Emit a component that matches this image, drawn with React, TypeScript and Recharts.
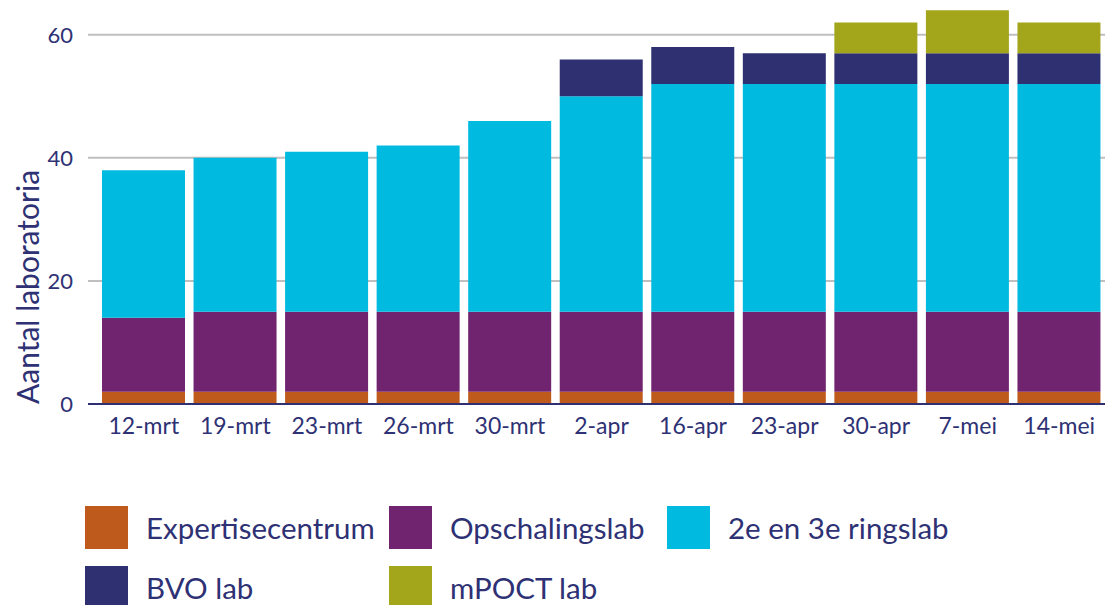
import { BarChart, Bar, XAxis, YAxis, CartesianGrid } from 'recharts';

const weeks = ['12-mrt', '19-mrt', '23-mrt', '26-mrt', '30-mrt', '2-apr', '16-apr', '23-apr', '30-apr', '7-mei', '14-mei'];
const expertise = [2, 2, 2, 2, 2, 2, 2, 2, 2, 2, 2];
const opschaling = [12, 13, 13, 13, 13, 13, 13, 13, 13, 13, 13];
const ringslab = [24, 25, 26, 27, 31, 35, 37, 37, 37, 37, 37];
const bvo = [0, 0, 0, 0, 0, 6, 6, 5, 5, 5, 5];
const mpoct = [0, 0, 0, 0, 0, 0, 0, 0, 5, 7, 5];
const yTicks = [0, 20, 40, 60];

const NAVY_TEXT = '#2e3174';
const FONT = 'Lato, Carlito, Calibri, sans-serif';

const series = [
  { key: 'expertise', name: 'Expertisecentrum', color: '#be5a1b', values: expertise },
  { key: 'opschaling', name: 'Opschalingslab', color: '#70236f', values: opschaling },
  { key: 'ringslab', name: '2e en 3e ringslab', color: '#00bbdf', values: ringslab },
  { key: 'bvo', name: 'BVO lab', color: '#2e3072', values: bvo },
  { key: 'mpoct', name: 'mPOCT lab', color: '#a3a51b', values: mpoct },
];

const data = weeks.map((week, i) => {
  const row: Record<string, string | number> = { week };
  series.forEach((s) => {
    row[s.key] = s.values[i];
  });
  return row;
});

// legend grid: 3 columns, 2 rows
const legendCols = [85, 389, 667];
const legendRows = [506, 566];

export default function App() {
  return (
    <div style={{ position: 'absolute', left: 0, top: 0, width: 1105, height: 605, background: '#fff', fontFamily: FONT }}>
      <BarChart
        width={1105}
        height={460}
        data={data}
        margin={{ top: 4, right: 0, bottom: 0, left: 0 }}
      >
        <CartesianGrid vertical={false} horizontalValues={yTicks} stroke="#bfbfbf" strokeWidth={2} />
        <XAxis
          dataKey="week"
          height={56}
          padding={{ left: 10, right: 0 }}
          tickLine={false}
          tickSize={0}
          tickMargin={14}
          axisLine={{ stroke: '#2e3072', strokeWidth: 2 }}
          tick={{ fill: NAVY_TEXT, fontSize: 23, fontFamily: FONT }}
          interval={0}
        />
        <YAxis
          width={88}
          domain={[0, 65]}
          ticks={yTicks}
          allowDataOverflow
          tickLine={false}
          tickSize={0}
          tickMargin={15}
          axisLine={false}
          tick={{ fill: NAVY_TEXT, fontSize: 22, fontFamily: FONT }}
          label={{
            content: () => (
              <text
                x={27}
                y={287}
                transform="rotate(-90, 27, 287)"
                textAnchor="middle"
                dominantBaseline="central"
                fill={NAVY_TEXT}
                fontSize={30}
                fontFamily={FONT}
              >
                Aantal laboratoria
              </text>
            ),
          }}
        />
        {series.map((s) => (
          <Bar
            key={s.key}
            dataKey={s.key}
            name={s.name}
            stackId="labs"
            fill={s.color}
            barSize={83}
            isAnimationActive={false}
          />
        ))}
      </BarChart>
      {series.map((s, i) => {
        const col = i % 3;
        const row = Math.floor(i / 3);
        return (
          <div
            key={s.key}
            style={{
              position: 'absolute',
              left: legendCols[col],
              top: legendRows[row],
              display: 'flex',
              alignItems: 'center',
              height: 43,
            }}
          >
            <div style={{ width: 43, height: 43, background: s.color }} />
            <span style={{ marginLeft: 18, fontSize: 29.5, color: NAVY_TEXT, whiteSpace: 'nowrap' }}>{s.name}</span>
          </div>
        );
      })}
    </div>
  );
}
